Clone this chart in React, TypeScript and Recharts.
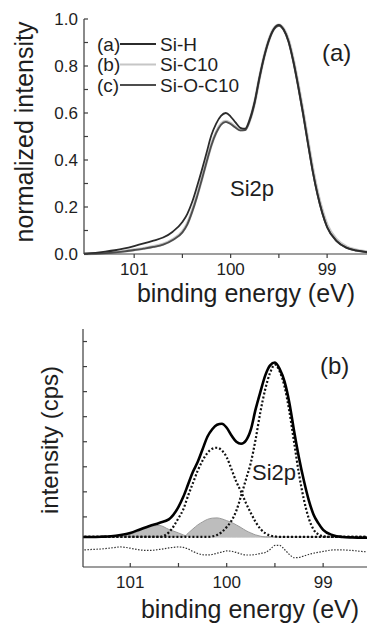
import { Area, ComposedChart, Label, Legend, Line, XAxis, YAxis } from "recharts";

// binding energy grid (eV), high to low
const energy = [
  101.6, 101.5, 101.4, 101.3, 101.2, 101.1, 101.0, 100.9, 100.8, 100.7, 100.6, 100.5,
  100.45, 100.4, 100.35, 100.3, 100.25, 100.2, 100.15, 100.1, 100.05, 100.0,
  99.95, 99.9, 99.85, 99.8, 99.75, 99.7, 99.65, 99.6, 99.55, 99.5,
  99.45, 99.4, 99.35, 99.3, 99.25, 99.2, 99.15, 99.1, 99.05, 99.0,
  98.9, 98.8, 98.7, 98.6, 98.5, 98.4,
];

// panel (a): normalized Si2p spectra
const siH = [
  0.0, 0.002, 0.005, 0.01, 0.016, 0.024, 0.034, 0.045, 0.057, 0.07, 0.095, 0.136,
  0.17, 0.22, 0.285, 0.355, 0.43, 0.505, 0.555, 0.588, 0.6, 0.585,
  0.56, 0.537, 0.533, 0.575, 0.65, 0.755, 0.845, 0.915, 0.96, 0.975,
  0.955, 0.905, 0.82, 0.715, 0.6, 0.475, 0.355, 0.255, 0.175, 0.115,
  0.055, 0.027, 0.015, 0.009, 0.005, 0.003,
];
const siC10 = [
  0.0, 0.001, 0.002, 0.004, 0.007, 0.012, 0.018, 0.024, 0.032, 0.042, 0.062, 0.095,
  0.128, 0.182, 0.246, 0.318, 0.393, 0.465, 0.518, 0.553, 0.565, 0.556,
  0.54, 0.528, 0.53, 0.572, 0.647, 0.752, 0.845, 0.915, 0.96, 0.974,
  0.957, 0.91, 0.826, 0.722, 0.608, 0.485, 0.366, 0.265, 0.185, 0.124,
  0.061, 0.031, 0.017, 0.01, 0.006, 0.003,
];
const siOC10 = [
  0.0, 0.001, 0.002, 0.004, 0.007, 0.011, 0.017, 0.023, 0.03, 0.04, 0.06, 0.092,
  0.125, 0.178, 0.242, 0.315, 0.39, 0.462, 0.515, 0.55, 0.562, 0.553,
  0.538, 0.526, 0.527, 0.57, 0.645, 0.75, 0.842, 0.912, 0.957, 0.971,
  0.953, 0.903, 0.818, 0.713, 0.598, 0.473, 0.353, 0.253, 0.173, 0.113,
  0.054, 0.026, 0.014, 0.008, 0.004, 0.002,
];

// panel (b): fitted Si2p (arbitrary cps units)
const envelope = [
  1.2, 1.2, 1.2, 1.21, 1.23, 1.28, 1.36, 1.5, 1.64, 1.76, 1.9, 2.4,
  2.8, 3.3, 3.8, 4.2, 4.7, 5.2, 5.5, 5.68, 5.72, 5.56,
  5.25, 5.0, 4.92, 5.05, 5.48, 6.3, 7.0, 7.65, 8.05, 8.16,
  7.9, 7.4, 6.55, 5.4, 4.35, 3.45, 2.68, 2.1, 1.75, 1.48,
  1.27, 1.2, 1.18, 1.17, 1.17, 1.17,
];
const peak1 = [
  1.2, 1.2, 1.2, 1.2, 1.2, 1.2, 1.2, 1.2, 1.2, 1.2, 1.38, 1.95,
  2.3, 2.85, 3.35, 3.85, 4.25, 4.55, 4.72, 4.76, 4.65, 4.38,
  3.9, 3.4, 3.0, 2.55, 2.16, 1.8, 1.52, 1.35, 1.26, 1.22,
  1.2, 1.2, 1.2, 1.2, 1.2, 1.2, 1.2, 1.2, 1.2, 1.2,
  1.2, 1.2, 1.2, 1.2, 1.2, 1.2,
];
const peak2 = [
  1.2, 1.2, 1.2, 1.2, 1.2, 1.2, 1.2, 1.2, 1.2, 1.2, 1.2, 1.2,
  1.2, 1.2, 1.2, 1.2, 1.2, 1.2, 1.22, 1.28, 1.4, 1.6,
  1.85, 2.25, 2.85, 3.5, 4.16, 5.1, 6.2, 7.1, 7.75, 8.08,
  7.8, 7.2, 6.2, 4.95, 3.7, 2.7, 1.95, 1.5, 1.3, 1.23,
  1.2, 1.2, 1.2, 1.2, 1.2, 1.2,
];
const shoulder1 = [
  1.2, 1.2, 1.2, 1.2, 1.2, 1.21, 1.3, 1.45, 1.6, 1.66, 1.5, 1.36,
  1.28, 1.22, 1.2, 1.2, 1.2, 1.2, 1.2, 1.2, 1.2, 1.2,
  1.2, 1.2, 1.2, 1.2, 1.2, 1.2, 1.2, 1.2, 1.2, 1.2,
  1.2, 1.2, 1.2, 1.2, 1.2, 1.2, 1.2, 1.2, 1.2, 1.2,
  1.2, 1.2, 1.2, 1.2, 1.2, 1.2,
];
const shoulder2 = [
  1.2, 1.2, 1.2, 1.2, 1.2, 1.2, 1.2, 1.2, 1.2, 1.2, 1.2, 1.2,
  1.2, 1.35, 1.52, 1.68, 1.8, 1.9, 1.95, 1.96, 1.92, 1.85,
  1.78, 1.68, 1.57, 1.45, 1.36, 1.28, 1.23, 1.2, 1.2, 1.2,
  1.2, 1.2, 1.2, 1.2, 1.2, 1.2, 1.2, 1.2, 1.2, 1.2,
  1.2, 1.2, 1.2, 1.2, 1.2, 1.2,
];
const residual = [
  0.68, 0.68, 0.7, 0.72, 0.76, 0.8, 0.75, 0.68, 0.66, 0.7, 0.76, 0.8,
  0.78, 0.72, 0.62, 0.54, 0.49, 0.48, 0.5, 0.55, 0.6, 0.64,
  0.63, 0.58, 0.52, 0.48, 0.48, 0.5, 0.54, 0.58, 0.7, 0.86,
  0.86, 0.7, 0.5, 0.37, 0.38, 0.44, 0.5, 0.55, 0.59, 0.62,
  0.68, 0.68, 0.66, 0.62, 0.6, 0.62,
];

const xTicks = [101, 100.5, 100, 99.5, 99, 98.5];
const yTicksA = [0, 0.1, 0.2, 0.3, 0.4, 0.5, 0.6, 0.7, 0.8, 0.9, 1.0];
const yTicksB = [2, 3, 4, 5, 6, 7, 8, 9];

const seriesA = [
  { key: "siH", tag: "(a)", name: "Si-H", color: "#2b2b2b" },
  { key: "siC10", tag: "(b)", name: "Si-C10", color: "#c6c6c6" },
  { key: "siOC10", tag: "(c)", name: "Si-O-C10", color: "#4d4d4d" },
];

const rowsA = energy.map((e, i) => ({ e, siH: siH[i], siC10: siC10[i], siOC10: siOC10[i] }));
const rowsB = energy.map((e, i) => ({
  e,
  env: envelope[i],
  p1: peak1[i],
  p2: peak2[i],
  g1: shoulder1[i],
  g2: shoulder2[i],
  res: residual[i],
}));

const FONT = "'Liberation Sans', Arial, sans-serif";
const AX = "#3c3c3c";
const TXT = "#1e1e1e";
const tickStyle = { fontSize: 17, fill: TXT };
const intLabel = (v: number) => (Number.isInteger(v) ? String(v) : "");

function LegendA() {
  return (
    <svg width={260} height={100} style={{ position: "absolute", left: 0, top: 0 }}>
      {seriesA.map((s, i) => {
        const cy = 44 + i * 20.5;
        return (
          <g key={s.key} fontSize={19} fill={TXT} fontFamily={FONT}>
            <text x={97} y={cy + 6.5}>{s.tag}</text>
            <line x1={120} x2={156} y1={cy} y2={cy} stroke={s.color} strokeWidth={2} />
            <text x={160} y={cy + 6.5}>{s.name}</text>
          </g>
        );
      })}
    </svg>
  );
}

export default function App() {
  return (
    <div
      style={{
        position: "fixed",
        left: 0,
        top: 0,
        width: 367,
        height: 625,
        overflow: "hidden",
        background: "#fff",
        fontFamily: FONT,
      }}
    >
      <div style={{ position: "absolute", left: 0, top: 0 }}>
        <ComposedChart width={400} height={310} data={rowsA} margin={{ top: 19, right: 15, bottom: 26, left: 0 }}>
          <XAxis
            dataKey="e"
            type="number"
            domain={[98.4, 101.52]}
            reversed
            allowDataOverflow
            ticks={xTicks}
            interval={0}
            tickFormatter={intLabel}
            tick={tickStyle}
            tickSize={4}
            tickMargin={5}
            height={30}
            stroke={AX}
            strokeWidth={1.2}
          >
            <Label
              content={() => (
                <g fill={TXT} fontFamily={FONT}>
                  <text x={246} y={302} textAnchor="middle" fontSize={25}>binding energy (eV)</text>
                  <text x={230} y={196} fontSize={22}>Si2p</text>
                  <text x={322} y={61} fontSize={24}>(a)</text>
                </g>
              )}
            />
          </XAxis>
          <XAxis
            xAxisId="top"
            orientation="top"
            dataKey="e"
            type="number"
            domain={[98.4, 101.52]}
            reversed
            allowDataOverflow
            ticks={xTicks}
            interval={0}
            tickFormatter={() => ""}
            tickSize={-4}
            height={0}
            stroke={AX}
            strokeWidth={1.2}
          />
          <YAxis
            type="number"
            domain={[0, 1]}
            ticks={yTicksA}
            interval={0}
            tickFormatter={(v: number) => (Math.round(v * 10) % 2 === 0 ? v.toFixed(1) : "")}
            tick={tickStyle}
            tickSize={-4}
            tickMargin={10}
            width={84}
            stroke={AX}
            strokeWidth={1.2}
          >
            <Label
              content={() => (
                <text
                  x={33}
                  y={132}
                  transform="rotate(-90 33 132)"
                  textAnchor="middle"
                  fontSize={25}
                  fill={TXT}
                  fontFamily={FONT}
                >
                  normalized intensity
                </text>
              )}
            />
          </YAxis>
          <Legend
            layout="horizontal"
            verticalAlign="middle"
            align="center"
            wrapperStyle={{ left: 0, top: 0, width: 260, height: 100 }}
            content={() => <LegendA />}
          />
          <Line dataKey="siC10" name="Si-C10" type="monotone" stroke="#c6c6c6" strokeWidth={3} dot={false} isAnimationActive={false} />
          <Line dataKey="siOC10" name="Si-O-C10" type="monotone" stroke="#4d4d4d" strokeWidth={1.8} dot={false} isAnimationActive={false} />
          <Line dataKey="siH" name="Si-H" type="monotone" stroke="#2b2b2b" strokeWidth={1.8} dot={false} isAnimationActive={false} />
        </ComposedChart>
      </div>

      <div style={{ position: "absolute", left: 0, top: 310 }}>
        <ComposedChart width={400} height={315} data={rowsB} margin={{ top: 19, right: 19, bottom: 28, left: 0 }}>
          <XAxis
            dataKey="e"
            type="number"
            domain={[98.4, 101.49]}
            reversed
            allowDataOverflow
            ticks={xTicks}
            interval={0}
            tickFormatter={intLabel}
            tick={tickStyle}
            tickSize={-4}
            tickMargin={13}
            height={30}
            stroke={AX}
            strokeWidth={1.2}
          >
            <Label
              content={() => (
                <g fill={TXT} fontFamily={FONT}>
                  <text x={250} y={308} textAnchor="middle" fontSize={25}>binding energy (eV)</text>
                  <text x={252} y={170} fontSize={22}>Si2p</text>
                  <text x={320} y={64} fontSize={24}>(b)</text>
                </g>
              )}
            />
          </XAxis>
          <XAxis
            xAxisId="top"
            orientation="top"
            dataKey="e"
            type="number"
            domain={[98.4, 101.49]}
            reversed
            allowDataOverflow
            ticks={xTicks}
            interval={0}
            tickFormatter={() => ""}
            tickSize={-4}
            height={0}
            stroke={AX}
            strokeWidth={1.2}
          />
          <YAxis
            type="number"
            domain={[0, 9.5]}
            ticks={yTicksB}
            interval={0}
            tickFormatter={() => ""}
            tickSize={-4}
            width={83}
            stroke={AX}
            strokeWidth={1.2}
          >
            <Label
              content={() => (
                <text
                  x={58}
                  y={130}
                  transform="rotate(-90 58 130)"
                  textAnchor="middle"
                  fontSize={24}
                  fill={TXT}
                  fontFamily={FONT}
                >
                  intensity (cps)
                </text>
              )}
            />
          </YAxis>
          <Area dataKey="g1" type="monotone" baseValue={1.2} fill="#bdbdbd" fillOpacity={1} stroke="#9a9a9a" strokeWidth={1} isAnimationActive={false} />
          <Area dataKey="g2" type="monotone" baseValue={1.2} fill="#bdbdbd" fillOpacity={1} stroke="#9a9a9a" strokeWidth={1} isAnimationActive={false} />
          <Line dataKey="res" type="monotone" stroke="#333" strokeWidth={1.2} strokeDasharray="1.5 1.5" dot={false} isAnimationActive={false} />
          <Line dataKey="p1" type="monotone" stroke="#111" strokeWidth={2.2} strokeDasharray="2 2" dot={false} isAnimationActive={false} />
          <Line dataKey="p2" type="monotone" stroke="#111" strokeWidth={2.2} strokeDasharray="2 2" dot={false} isAnimationActive={false} />
          <Line dataKey="env" type="monotone" stroke="#000" strokeWidth={2.6} dot={false} isAnimationActive={false} />
        </ComposedChart>
      </div>
    </div>
  );
}
